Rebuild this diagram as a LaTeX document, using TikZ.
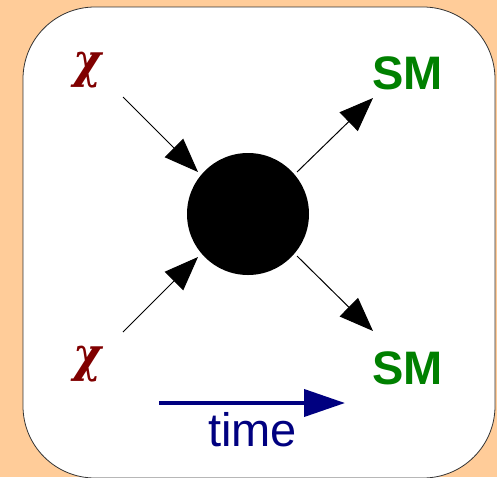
\documentclass[tikz,border=0pt]{standalone}
\usepackage{fontspec}
\usepackage{graphicx}
\setmainfont{Liberation Sans}
\newfontfamily\chifont{DejaVu Serif}
\usetikzlibrary{arrows.meta}
\definecolor{peach}{HTML}{FFCC99}
\definecolor{chired}{HTML}{800000}
\definecolor{smgreen}{HTML}{008000}
\definecolor{timeblue}{HTML}{000080}
\newcommand{\chisym}{\resizebox*{28pt}{36pt}{\chifont\bfseries\itshape χ}}
\tikzset{
  flow/.style={line width=1pt, -{Triangle[length=34pt,width=26pt]}},
  chilabel/.style={text=chired, inner sep=0pt},
  smlabel/.style={text=smgreen, font=\bfseries\fontsize{47}{47}\selectfont, inner sep=0pt, anchor=base},
}
\begin{document}
\begin{tikzpicture}[x=1pt,y=-1pt]
\useasboundingbox (0,0) rectangle (497,477);
\fill[peach] (0,0) rectangle (497,477);
\draw[fill=white, draw=black!80, line width=0.8pt, rounded corners=72pt] (23,7) rectangle (495,478);
\node[circle, fill=black, minimum size=122pt, inner sep=0pt] (blob) at (248,214) {};
\node[chilabel] (chi1) at (88,70) {\chisym};
\node[chilabel] (chi2) at (88,364) {\chisym};
\node[smlabel] (sm1) at (407.5,89) {SM};
\node[smlabel] (sm2) at (407.5,384) {SM};
\coordinate (a1s) at (123,97);  \coordinate (a1t) at (198,172);
\coordinate (a2s) at (123,332); \coordinate (a2t) at (198,257);
\coordinate (a3s) at (297,172); \coordinate (a3t) at (373,98);
\coordinate (a4s) at (297,256); \coordinate (a4t) at (373,331);
\draw[flow] (a1s) -- (a1t);
\draw[flow] (a2s) -- (a2t);
\draw[flow] (a3s) -- (a3t);
\draw[flow] (a4s) -- (a4t);
\coordinate (ts) at (159,403); \coordinate (te) at (345,403);
\draw[timeblue, line width=4pt, -{Triangle[length=41pt,width=27pt]}] (ts) -- (te);
\node[text=timeblue, font=\fontsize{47}{47}\selectfont, inner sep=0pt, anchor=base] (time) at (252.5,446) {time};
\end{tikzpicture}
\end{document}
